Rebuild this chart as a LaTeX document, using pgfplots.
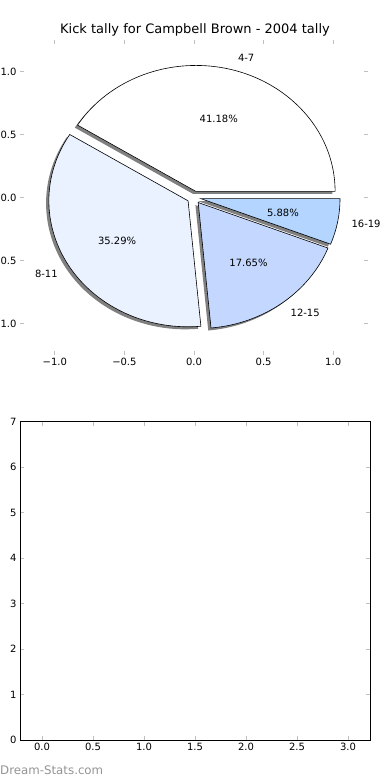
\documentclass[border=0pt]{standalone}
\usepackage{pgfplots}
\pgfplotsset{compat=1.18}
\usepackage{pgfplotstable}
\usepackage{fontspec}
\setmainfont{DejaVu Sans}
\definecolor{cA}{HTML}{FFFFFF}
\definecolor{cB}{HTML}{EAF1FF}
\definecolor{cC}{HTML}{C4D8FF}
\definecolor{cD}{HTML}{B3D5FF}
\definecolor{tickgray}{HTML}{BFBFBF}
\definecolor{shadowgray}{HTML}{808080}
\pgfplotstableread{
label value col
4-7 7 cA
8-11 6 cB
12-15 3 cC
16-19 1 cD
}\piedata
\begin{document}
\begin{tikzpicture}[x=1pt,y=1pt]
\useasboundingbox (0,0) rectangle (390,780);
\begin{axis}[
  at={(20pt,425pt)}, anchor=south west, scale only axis,
  width=348pt, height=315pt,
  xmin=-1.25, xmax=1.25, ymin=-1.25, ymax=1.25,
  axis line style={draw=none},
  tick align=inside,
  major tick length=4pt,
  every tick/.style={draw=tickgray, line width=0.8pt},
  xtick={-1,-0.5,0,0.5,1}, ytick={-1,-0.5,0,0.5,1},
  xticklabels={−1.0,−0.5,0.0,0.5,1.0},
  yticklabels={−1.0,−0.5,0.0,0.5,1.0},
  tick label style={font=\fontsize{10}{12}\selectfont, text=black},
  clip=false,
]
\pgfplotsextra{
  \pgfplotstablegetrowsof{\piedata}\pgfmathtruncatemacro\N{\pgfplotsretval-1}
  \gdef\tot{0}
  \foreach \i in {0,...,\N}{
    \pgfplotstablegetelem{\i}{value}\of\piedata
    \pgfmathsetmacro\t{\tot+\pgfplotsretval}\xdef\tot{\t}}
  \foreach \layer in {0,1}{
    \gdef\cum{0}
    \foreach \i in {0,...,\N}{
      \pgfplotstablegetelem{\i}{value}\of\piedata \let\v\pgfplotsretval
      \pgfplotstablegetelem{\i}{col}\of\piedata \let\c\pgfplotsretval
      \pgfplotstablegetelem{\i}{label}\of\piedata \let\lab\pgfplotsretval
      \pgfmathsetmacro\a{\cum/\tot*360}
      \pgfmathsetmacro\b{(\cum+\v)/\tot*360}
      \pgfmathsetmacro\m{(\a+\b)/2}
      \pgfmathsetmacro\cx{0.05*cos(\m)}
      \pgfmathsetmacro\cy{0.05*sin(\m)}
      \ifnum\layer=0
        \pgfmathsetmacro\sx{\cx-0.02}
        \pgfmathsetmacro\sy{\cy-0.02}
        \pgfmathsetmacro\px{\sx+cos(\a)}
        \pgfmathsetmacro\py{\sy+sin(\a)}
        \fill[shadowgray] (axis cs:\sx,\sy) -- (axis cs:\px,\py)
          arc[start angle=\a, end angle=\b, x radius=1, y radius=1] -- cycle;
      \else
        \pgfmathsetmacro\px{\cx+cos(\a)}
        \pgfmathsetmacro\py{\cy+sin(\a)}
        \filldraw[fill=\c, draw=black, line width=0.6pt, line join=miter]
          (axis cs:\cx,\cy) -- (axis cs:\px,\py)
          arc[start angle=\a, end angle=\b, x radius=1, y radius=1] -- cycle;
        \pgfmathsetmacro\tx{\cx+0.6*cos(\m)}
        \pgfmathsetmacro\ty{\cy+0.6*sin(\m)}
        \pgfmathsetmacro\pct{\v/\tot*100}
        \node[inner sep=0pt, font=\fontsize{10}{12}\selectfont] at (axis cs:\tx,\ty)
          {\pgfmathprintnumber[fixed,fixed zerofill,precision=2,assume math mode=true]{\pct}\%};
        \pgfmathsetmacro\lx{\cx+1.1*cos(\m)}
        \pgfmathsetmacro\ly{\cy+1.1*sin(\m)}
        \ifdim\lx pt>0pt
          \node[inner sep=0pt, anchor=west, font=\fontsize{10}{12}\selectfont] at (axis cs:\lx,\ly) {\lab};
        \else
          \node[inner sep=0pt, anchor=east, font=\fontsize{10}{12}\selectfont] at (axis cs:\lx,\ly) {\lab};
        \fi
      \fi
      \pgfmathsetmacro\t{\cum+\v}\xdef\cum{\t}
    }}
}
\end{axis}
\node[font=\fontsize{13}{15}\selectfont] at (195,750) {Kick tally for Campbell Brown - 2004 tally};
\begin{axis}[
  at={(20pt,40pt)}, anchor=south west, scale only axis,
  width=350pt, height=318.3pt,
  xmin=-0.2157, xmax=3.2157, ymin=0, ymax=7,
  axis line style={black, line width=0.8pt},
  tick align=inside,
  major tick length=4pt,
  every tick/.style={draw=tickgray, line width=0.8pt},
  xtick={0,0.5,1,1.5,2,2.5,3},
  xticklabels={0.0,0.5,1.0,1.5,2.0,2.5,3.0},
  ytick={0,1,2,3,4,5,6,7},
  /pgf/number format/assume math mode=true,
  tick label style={font=\fontsize{10}{12}\selectfont, text=black},
]
\addplot[draw=none] coordinates {(0,0)};
\end{axis}
\node[anchor=west, inner sep=0pt, text=black!42, font=\fontsize{11.8}{13}\selectfont] at (0,10) {Dream-Stats.com};
\end{tikzpicture}
\end{document}
